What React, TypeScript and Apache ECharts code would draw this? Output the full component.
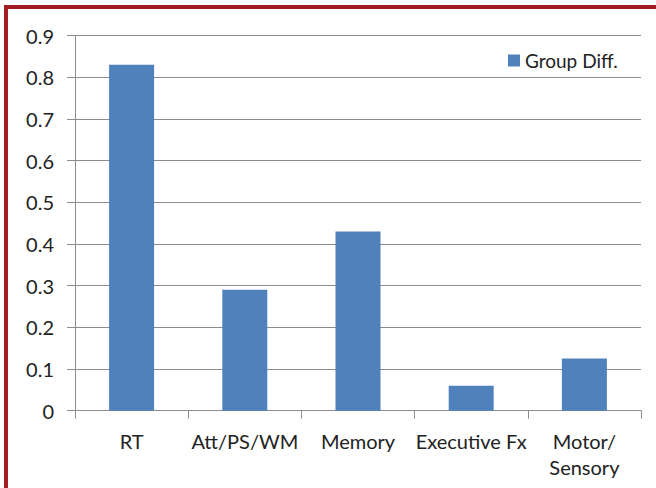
import React, { useEffect, useRef } from "react";
import * as echarts from "echarts";

const categories = ["RT", "Att/PS/WM", "Memory", "Executive Fx", "Motor/\nSensory"];
const groupDiff = [0.83, 0.29, 0.43, 0.06, 0.125];
const seriesName = "Group Diff.";

const FONT = "Lato";

export default function App() {
  const ref = useRef<HTMLDivElement>(null);
  useEffect(() => {
    if (!ref.current) return;
    const chart = echarts.init(ref.current, undefined, { renderer: "svg" });
    chart.setOption({
      animation: false,
      backgroundColor: "#ffffff",
      textStyle: { fontFamily: FONT },
      grid: { left: 75, right: 15, top: 35.7, bottom: 77.3, containLabel: false },
      legend: {
        data: [seriesName],
        left: 503,
        top: 46,
        itemWidth: 12,
        itemHeight: 12,
        icon: "rect",
        textStyle: { fontFamily: FONT, fontSize: 19, color: "#222" },
      },
      xAxis: {
        type: "category",
        data: categories,
        axisLine: { lineStyle: { color: "#8c8c8c", width: 1 } },
        axisTick: { show: true, length: 8, alignWithLabel: false, lineStyle: { color: "#8c8c8c" } },
        axisLabel: { color: "#222", fontSize: 20, fontFamily: FONT, margin: 17, lineHeight: 26, interval: 0 },
      },
      yAxis: {
        type: "value",
        min: 0,
        max: 0.9,
        interval: 0.1,
        axisLine: { show: true, lineStyle: { color: "#8c8c8c", width: 1 } },
        axisTick: { show: true, length: 8, lineStyle: { color: "#8c8c8c" } },
        splitLine: { show: true, lineStyle: { color: "#8c8c8c", width: 1 } },
        axisLabel: {
          color: "#222",
          fontSize: 20,
          fontFamily: FONT,
          margin: 21,
          formatter: (v: number) => (v === 0 ? "0" : v.toFixed(1)),
        },
      },
      series: [
        {
          name: seriesName,
          type: "bar",
          data: groupDiff,
          barWidth: 45,
          itemStyle: { color: "#4f81bd" },
        },
      ],
      graphic: [
        { type: "rect", shape: { x: 4, y: 5, width: 4, height: 483 }, style: { fill: "#a31d24" }, silent: true },
        { type: "rect", shape: { x: 4, y: 5, width: 652, height: 4 }, style: { fill: "#a31d24" }, silent: true },
      ],
    });
    return () => chart.dispose();
  }, []);
  return (
    <div
      ref={ref}
      style={{ position: "absolute", left: 0, top: 0, width: 656, height: 488 }}
    />
  );
}
